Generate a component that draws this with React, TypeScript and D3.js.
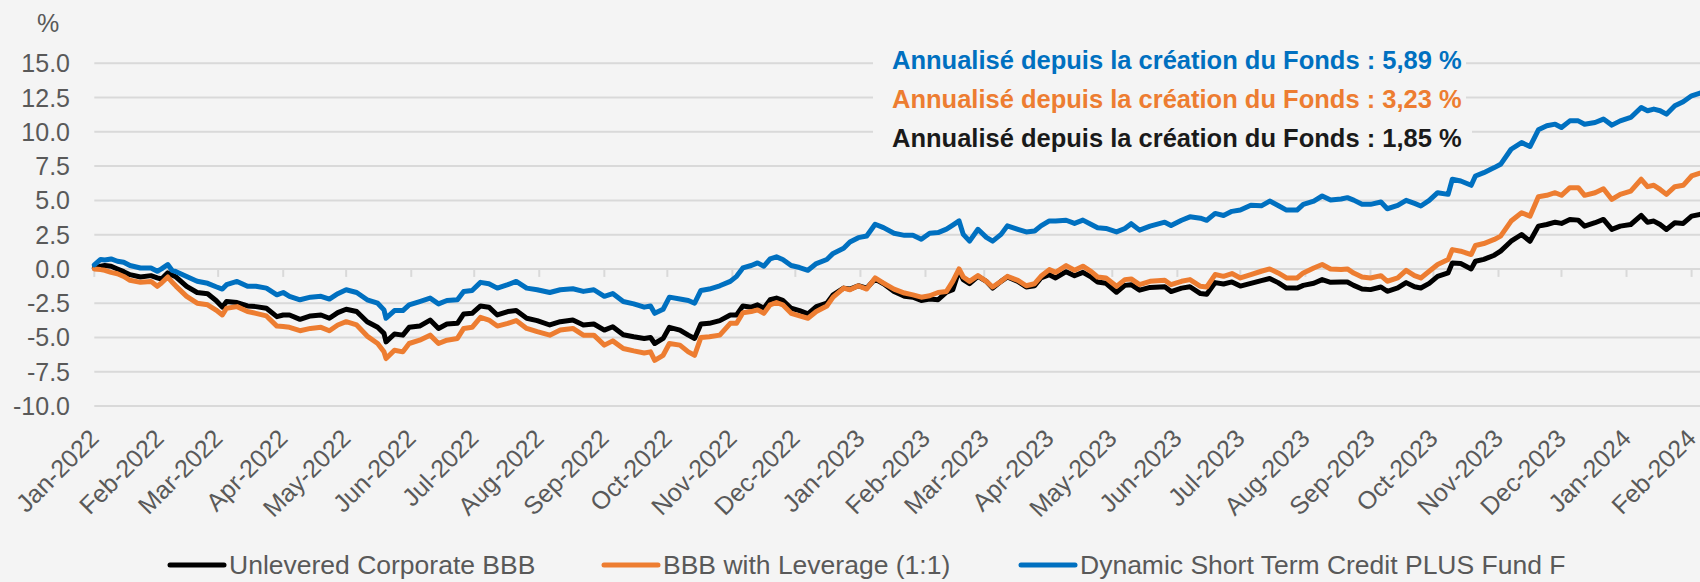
import React from 'react';
import * as d3 from 'd3';

// chart data
const dates = [
  '2022-01-01', '2022-01-04', '2022-01-06', '2022-01-09', '2022-01-12', '2022-01-15', '2022-01-18', '2022-01-23',
  '2022-01-28', '2022-01-31', '2022-02-02', '2022-02-05', '2022-02-07', '2022-02-09', '2022-02-14', '2022-02-19',
  '2022-02-24', '2022-02-28', '2022-03-03', '2022-03-05', '2022-03-10', '2022-03-15', '2022-03-19', '2022-03-24',
  '2022-03-29', '2022-04-01', '2022-04-04', '2022-04-09', '2022-04-14', '2022-04-19', '2022-04-23', '2022-04-27',
  '2022-05-01', '2022-05-06', '2022-05-11', '2022-05-16', '2022-05-19', '2022-05-20', '2022-05-24', '2022-05-28',
  '2022-05-31', '2022-06-05', '2022-06-10', '2022-06-14', '2022-06-18', '2022-06-23', '2022-06-26', '2022-06-30',
  '2022-07-04', '2022-07-08', '2022-07-12', '2022-07-17', '2022-07-21', '2022-07-26', '2022-07-31', '2022-08-06',
  '2022-08-11', '2022-08-17', '2022-08-22', '2022-08-27', '2022-09-01', '2022-09-05', '2022-09-10', '2022-09-15',
  '2022-09-20', '2022-09-23', '2022-09-25', '2022-09-29', '2022-10-02', '2022-10-07', '2022-10-11', '2022-10-14',
  '2022-10-17', '2022-10-21', '2022-10-26', '2022-10-31', '2022-11-03', '2022-11-06', '2022-11-10', '2022-11-13',
  '2022-11-16', '2022-11-19', '2022-11-22', '2022-11-25', '2022-11-29', '2022-12-03', '2022-12-07', '2022-12-11',
  '2022-12-16', '2022-12-19', '2022-12-24', '2022-12-27', '2022-12-31', '2023-01-04', '2023-01-08', '2023-01-12',
  '2023-01-17', '2023-01-22', '2023-01-26', '2023-01-30', '2023-02-03', '2023-02-07', '2023-02-11', '2023-02-14',
  '2023-02-17', '2023-02-19', '2023-02-22', '2023-02-26', '2023-03-02', '2023-03-05', '2023-03-09', '2023-03-12',
  '2023-03-17', '2023-03-21', '2023-03-25', '2023-03-28', '2023-04-01', '2023-04-04', '2023-04-09', '2023-04-13',
  '2023-04-17', '2023-04-21', '2023-04-24', '2023-04-28', '2023-05-03', '2023-05-07', '2023-05-10', '2023-05-14',
  '2023-05-19', '2023-05-26', '2023-05-29', '2023-06-03', '2023-06-07', '2023-06-12', '2023-06-15', '2023-06-19',
  '2023-06-23', '2023-06-27', '2023-07-01', '2023-07-06', '2023-07-11', '2023-07-15', '2023-07-19', '2023-07-23',
  '2023-07-28', '2023-07-31', '2023-08-05', '2023-08-09', '2023-08-13', '2023-08-18', '2023-08-21', '2023-08-24',
  '2023-08-28', '2023-09-01', '2023-09-06', '2023-09-09', '2023-09-14', '2023-09-18', '2023-09-22', '2023-09-25',
  '2023-09-29', '2023-10-03', '2023-10-08', '2023-10-10', '2023-10-14', '2023-10-19', '2023-10-21', '2023-10-25',
  '2023-10-30', '2023-11-02', '2023-11-07', '2023-11-12', '2023-11-16', '2023-11-20', '2023-11-24', '2023-11-28',
  '2023-12-01', '2023-12-05', '2023-12-09', '2023-12-12', '2023-12-17', '2023-12-21', '2023-12-25', '2023-12-29',
  '2024-01-03', '2024-01-08', '2024-01-11', '2024-01-14', '2024-01-17', '2024-01-20', '2024-01-24', '2024-01-28',
  '2024-02-01', '2024-02-05',
];

const unlevered = [
  0.05, 0.2, 0.25, 0.2, 0.0, -0.2, -0.42, -0.59,
  -0.49, -0.65, -0.74, -0.29, -0.45, -0.59, -1.27, -1.72,
  -1.81, -2.3, -2.79, -2.38, -2.45, -2.7, -2.75, -2.87,
  -3.48, -3.36, -3.36, -3.68, -3.43, -3.36, -3.6, -3.19,
  -2.94, -3.11, -3.85, -4.26, -4.7, -5.32, -4.75, -4.83,
  -4.26, -4.17, -3.73, -4.34, -4.02, -3.97, -3.28, -3.24,
  -2.7, -2.79, -3.36, -3.11, -3.04, -3.6, -3.77, -4.09,
  -3.85, -3.73, -4.09, -4.02, -4.46, -4.22, -4.8, -4.95,
  -5.07, -5.0, -5.44, -5.07, -4.26, -4.46, -4.83, -5.07,
  -4.02, -3.97, -3.77, -3.36, -3.36, -2.7, -2.79, -2.62,
  -2.87, -2.25, -2.13, -2.3, -2.87, -3.04, -3.28, -2.75,
  -2.5, -1.89, -1.4, -1.47, -1.23, -1.4, -0.74, -1.08,
  -1.64, -2.0, -2.06, -2.3, -2.2, -2.25, -1.7, -1.52,
  -0.1, -0.78, -1.08, -0.54, -0.91, -1.4, -0.91, -0.59,
  -0.91, -1.32, -1.23, -0.66, -0.42, -0.66, -0.2, -0.5,
  -0.25, -0.6, -0.95, -1.05, -1.7, -1.2, -1.15, -1.55,
  -1.35, -1.3, -1.65, -1.4, -1.3, -1.8, -1.85, -1.0,
  -1.1, -0.95, -1.25, -1.05, -0.85, -0.7, -1.0, -1.4,
  -1.4, -1.2, -1.05, -0.78, -0.98, -0.95, -0.95, -1.2,
  -1.46, -1.51, -1.32, -1.63, -1.39, -1.0, -1.3, -1.39,
  -1.05, -0.54, -0.29, 0.44, 0.39, 0.0, 0.56, 0.7,
  1.0, 1.3, 2.02, 2.51, 2.02, 3.12, 3.24, 3.41,
  3.32, 3.61, 3.56, 3.12, 3.37, 3.61, 2.88, 3.12,
  3.24, 3.9, 3.41, 3.49, 3.24, 2.88, 3.37, 3.32,
  3.85, 3.98,
];

const leveraged = [
  0.0, -0.05, -0.1, -0.25, -0.35, -0.55, -0.83, -0.98,
  -0.91, -1.27, -1.03, -0.59, -0.95, -1.27, -2.0, -2.5,
  -2.62, -3.0, -3.36, -2.87, -2.75, -3.11, -3.24, -3.43,
  -4.17, -4.2, -4.26, -4.51, -4.34, -4.26, -4.51, -4.09,
  -3.85, -4.09, -4.9, -5.44, -6.05, -6.54, -5.93, -6.05,
  -5.44, -5.2, -4.83, -5.44, -5.2, -5.07, -4.34, -4.26,
  -3.53, -3.73, -4.17, -3.97, -3.77, -4.34, -4.58, -4.83,
  -4.46, -4.34, -4.83, -4.83, -5.56, -5.25, -5.81, -5.98,
  -6.13, -6.05, -6.67, -6.3, -5.44, -5.56, -6.05, -6.3,
  -5.0, -4.95, -4.83, -3.97, -3.97, -3.19, -3.11, -2.99,
  -3.24, -2.62, -2.45, -2.62, -3.24, -3.43, -3.6, -3.11,
  -2.7, -2.06, -1.4, -1.52, -1.23, -1.47, -0.66, -1.03,
  -1.47, -1.76, -1.89, -2.06, -1.96, -1.72, -1.64, -0.91,
  0.0, -0.59, -0.91, -0.49, -0.91, -1.32, -0.91, -0.54,
  -0.83, -1.23, -1.08, -0.54, -0.05, -0.25, 0.24, -0.1,
  0.2, -0.2, -0.59, -0.66, -1.27, -0.78, -0.73, -1.15,
  -0.9, -0.83, -1.15, -0.9, -0.78, -1.27, -1.32, -0.41,
  -0.54, -0.34, -0.66, -0.41, -0.17, 0.0, -0.29, -0.66,
  -0.66, -0.29, 0.07, 0.32, 0.0, -0.05, 0.0, -0.3,
  -0.59, -0.66, -0.49, -0.9, -0.66, -0.1, -0.49, -0.66,
  -0.17, 0.32, 0.68, 1.41, 1.29, 1.05, 1.71, 1.85,
  2.15, 2.39, 3.49, 4.1, 3.85, 5.27, 5.37, 5.56,
  5.37, 5.93, 5.93, 5.37, 5.56, 5.85, 5.07, 5.44,
  5.68, 6.54, 6.0, 6.1, 5.8, 5.44, 6.0, 6.1,
  6.78, 6.98,
];

const dynamic = [
  0.3, 0.69, 0.65, 0.73, 0.56, 0.49, 0.25, 0.07,
  0.07, -0.17, 0.0, 0.32, -0.1, -0.2, -0.55, -0.9,
  -1.05, -1.3, -1.47, -1.15, -0.91, -1.27, -1.27, -1.4,
  -1.89, -1.72, -2.0, -2.25, -2.06, -2.0, -2.2, -1.81,
  -1.52, -1.72, -2.25, -2.5, -2.99, -3.6, -3.04, -3.04,
  -2.62, -2.38, -2.13, -2.55, -2.3, -2.25, -1.64, -1.57,
  -0.98, -1.08, -1.4, -1.15, -0.91, -1.4, -1.52, -1.72,
  -1.52, -1.45, -1.64, -1.52, -2.0, -1.8, -2.38, -2.55,
  -2.79, -2.7, -3.24, -2.94, -2.06, -2.2, -2.3, -2.5,
  -1.57, -1.47, -1.23, -0.91, -0.54, 0.07, 0.25, 0.44,
  0.2, 0.74, 0.88, 0.69, 0.25, 0.1, -0.1, 0.39,
  0.69, 1.13, 1.5, 1.96, 2.28, 2.4, 3.26, 3.01,
  2.6, 2.45, 2.45, 2.16, 2.6, 2.65, 2.9, 3.2,
  3.5, 2.52, 2.03, 2.89, 2.3, 2.03, 2.52, 3.14,
  2.89, 2.7, 2.77, 3.14, 3.5, 3.5, 3.55, 3.32,
  3.56, 3.24, 3.0, 2.95, 2.7, 2.95, 3.3, 2.83,
  3.12, 3.41, 3.17, 3.55, 3.8, 3.7, 3.55, 4.05,
  3.9, 4.2, 4.3, 4.65, 4.6, 4.95, 4.63, 4.29,
  4.29, 4.71, 4.95, 5.32, 5.02, 5.1, 5.2, 5.02,
  4.71, 4.71, 4.88, 4.39, 4.63, 5.0, 4.78, 4.59,
  5.0, 5.56, 5.44, 6.54, 6.41, 6.1, 6.78, 7.02,
  7.39, 7.63, 8.73, 9.22, 8.93, 10.15, 10.44, 10.56,
  10.32, 10.8, 10.8, 10.56, 10.68, 10.93, 10.49, 10.8,
  11.05, 11.78, 11.54, 11.66, 11.54, 11.29, 11.9, 12.2,
  12.63, 12.83,
];

const seriesNames = ['Unlevered Corporate BBB', 'BBB with Leverage (1:1)', 'Dynamic Short Term Credit PLUS Fund F'];
const seriesColors = ['#000000', '#ed7d31', '#0070c0'];
const yTicks = [15, 12.5, 10, 7.5, 5, 2.5, 0, -2.5, -5, -7.5, -10];
const notes = [
  'Annualisé depuis la création du Fonds : 5,89 %',
  'Annualisé depuis la création du Fonds : 3,23 %',
  'Annualisé depuis la création du Fonds : 1,85 %',
];
const noteColors = ['#0070c0', '#ed7d31', '#1a1a1a'];

const W = 1700;
const H = 582;
const FONT = '"Liberation Sans", Arial, Helvetica, sans-serif';
const GRID = '#d9d9d9';
const TEXT = '#595959';

const parse = d3.timeParse('%Y-%m-%d');

export default function App() {
  const x = d3
    .scaleTime()
    .domain([new Date(2022, 0, 1), new Date(2024, 1, 5)])
    .range([94.3, 1700]);
  const y = d3.scaleLinear().domain([-10, 15]).range([406, 63.3]);

  const months = d3.timeMonth.range(new Date(2022, 0, 1), new Date(2024, 1, 2));
  const fmt = d3.timeFormat('%b-%Y');

  const line = d3
    .line<[Date, number]>()
    .x((d) => x(d[0]))
    .y((d) => y(d[1]));

  const parsed = dates.map((d) => parse(d) as Date);
  const series = [unlevered, leveraged, dynamic].map((vals) =>
    vals.map((v, i) => [parsed[i], v] as [Date, number])
  );

  const legendX = [170, 604, 1021];
  const noteY = [69, 108, 147];
  const noteBoxEnd = [1466, 1466, 1472];

  return (
    <svg
      width={W}
      height={H}
      style={{ position: 'absolute', left: 0, top: 0, background: '#f4f4f4' }}
      fontFamily={FONT}
    >
      <rect width={W} height={H} fill='#f4f4f4' />

      {/* grid */}
      {yTicks.map((t) => (
        <line key={t} x1={94.3} x2={W} y1={y(t)} y2={y(t)} stroke={GRID} strokeWidth={2} />
      ))}
      {months.map((m) => (
        <line key={+m} x1={x(m)} x2={x(m)} y1={y(0)} y2={y(0) + 8} stroke={GRID} strokeWidth={2} />
      ))}

      {/* y axis labels */}
      <text x={37} y={32} fontSize={25} fill={TEXT}>%</text>
      {yTicks.map((t) => (
        <text key={t} x={70} y={y(t) + 9} fontSize={25} fill={TEXT} textAnchor='end'>
          {t.toFixed(1)}
        </text>
      ))}

      {/* x axis labels */}
      {months.map((m) => (
        <text
          key={+m}
          transform={`translate(${x(m) + 6},${440}) rotate(-45)`}
          fontSize={25}
          fill={TEXT}
          textAnchor='end'
        >
          {fmt(m)}
        </text>
      ))}

      {/* lines */}
      {series.map((s, i) => (
        <path
          key={i}
          d={line(s) || ''}
          fill='none'
          stroke={seriesColors[i]}
          strokeWidth={5}
          strokeLinejoin='round'
          strokeLinecap='round'
        />
      ))}

      {/* annotations */}
      {notes.map((n, i) => (
        <g key={i}>
          <rect x={873} y={noteY[i] - 26} width={noteBoxEnd[i] - 873} height={36} fill='#f4f4f4' />
          <text x={892} y={noteY[i]} fontSize={25.5} fontWeight='bold' fill={noteColors[i]}>
            {n}
          </text>
        </g>
      ))}

      {/* legend */}
      {seriesNames.map((n, i) => (
        <g key={n}>
          <line
            x1={legendX[i]}
            x2={legendX[i] + 54}
            y1={565}
            y2={565}
            stroke={seriesColors[i]}
            strokeWidth={5}
            strokeLinecap='round'
          />
          <text x={legendX[i] + 59} y={574} fontSize={26.5} fill={TEXT}>
            {n}
          </text>
        </g>
      ))}
    </svg>
  );
}
